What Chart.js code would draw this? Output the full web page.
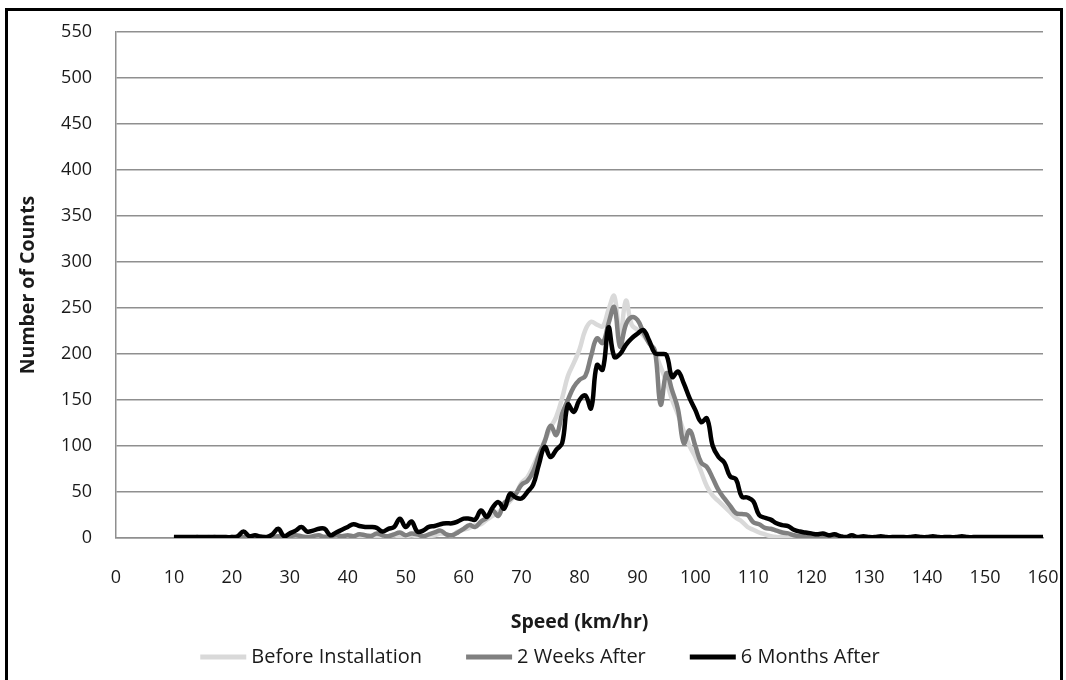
<!DOCTYPE html>
<html>
<head>
<meta charset="utf-8">
<title>Speed distribution</title>
<script src="https://cdn.jsdelivr.net/npm/chart.js@4.4.1/dist/chart.umd.min.js"></script>
<style>
  html, body { margin: 0; padding: 0; background: #fff; }
  #wrap { position: relative; width: 1066px; height: 680px; overflow: hidden; background: #fff; }
  #frame { position: absolute; left: 5px; top: 8px; width: 1058px; height: 720px;
           border: 3px solid #000; box-sizing: border-box; pointer-events: none; }
  #chart { position: absolute; left: 0; top: 0; }
</style>
</head>
<body>
<div id="wrap">
  <canvas id="chart" width="1066" height="680"></canvas>
  <div id="frame"></div>
</div>
<script>
// Speed bins (km/hr)
const speeds = [
  10, 11, 12, 13, 14, 15, 16, 17, 18, 19,
  20, 21, 22, 23, 24, 25, 26, 27, 28, 29,
  30, 31, 32, 33, 34, 35, 36, 37, 38, 39,
  40, 41, 42, 43, 44, 45, 46, 47, 48, 49,
  50, 51, 52, 53, 54, 55, 56, 57, 58, 59,
  60, 61, 62, 63, 64, 65, 66, 67, 68, 69,
  70, 71, 72, 73, 74, 75, 76, 77, 78, 79,
  80, 81, 82, 83, 84, 85, 86, 87, 88, 89,
  90, 91, 92, 93, 94, 95, 96, 97, 98, 99,
  100, 101, 102, 103, 104, 105, 106, 107, 108, 109,
  110, 111, 112, 113, 114, 115, 116, 117, 118, 119,
  120, 121, 122, 123, 124, 125, 126, 127, 128, 129,
  130, 131, 132, 133, 134, 135, 136, 137, 138, 139,
  140, 141, 142, 143, 144, 145, 146, 147, 148, 149,
  150, 151, 152, 153, 154, 155, 156, 157, 158, 159,
  160
];

// Vehicle counts per speed bin
const beforeInstallation = [
  0, 0, 0, 0, 0, 0, 1, 0, 0, 0,
  0, 1, 1, 0, 1, 0, 0, 1, 1, 0,
  1, 2, 1, 1, 0, 1, 2, 1, 1, 2,
  1, 2, 2, 1, 3, 2, 1, 2, 3, 2,
  2, 3, 2, 1, 2, 3, 5, 4, 3, 7,
  9, 11, 14, 15, 20, 24, 28, 34, 40, 48,
  60, 66, 78, 92, 106, 120, 132, 152, 176, 190,
  205, 226, 235, 232, 230, 248, 263, 218, 258, 232,
  226, 220, 212, 202, 186, 170, 150, 134, 116, 100,
  88, 72, 56, 46, 40, 34, 28, 22, 18, 12,
  9, 6, 4, 2, 1, 1, 0, 0, 0, 0,
  0, 0, 0, 0, 0, 0, 0, 0, 0, 0,
  0, 0, 0, 0, 0, 0, 0, 0, 0, 0,
  0, 0, 0, 0, 0, 0, 0, 0, 0, 0,
  0, 0, 0, 0, 0, 0, 0, 0, 0, 0,
  0
];

const twoWeeksAfter = [
  0, 0, 0, 0, 1, 0, 0, 1, 0, 0,
  1, 0, 1, 1, 0, 2, 1, 0, 2, 1,
  2, 3, 2, 1, 2, 3, 1, 2, 3, 2,
  3, 2, 4, 3, 2, 5, 3, 2, 4, 6,
  3, 5, 4, 2, 4, 6, 8, 4, 3, 6,
  10, 14, 12, 18, 22, 30, 24, 38, 42, 48,
  58, 62, 72, 90, 105, 122, 112, 135, 150, 164,
  172, 176, 198, 217, 212, 233, 251, 208, 232, 240,
  237, 224, 212, 204, 145, 179, 160, 140, 103, 117,
  100, 82, 77, 65, 52, 43, 35, 27, 26, 25,
  17, 15, 11, 10, 8, 6, 5, 3, 2, 2,
  1, 1, 1, 1, 0, 1, 0, 0, 0, 0,
  0, 0, 0, 0, 0, 0, 0, 0, 0, 0,
  0, 0, 0, 0, 0, 0, 0, 0, 0, 0,
  0, 0, 0, 0, 0, 0, 0, 0, 0, 0,
  0
];

const sixMonthsAfter = [
  1, 1, 1, 1, 1, 1, 1, 1, 1, 1,
  1, 2, 7, 2, 3, 1, 1, 4, 10, 2,
  5, 8, 12, 7, 8, 10, 10, 3, 6, 9,
  12, 15, 13, 12, 12, 11, 7, 10, 12, 21,
  12, 18, 7, 8, 12, 13, 15, 16, 16, 18,
  21, 21, 20, 30, 23, 33, 39, 32, 48, 44,
  43, 50, 58, 80, 99, 88, 96, 103, 145, 137,
  150, 155, 141, 188, 183, 229, 197, 200, 210, 217,
  222, 226, 215, 201, 200, 199, 175, 181, 168, 152,
  139, 126, 130, 100, 88, 82, 67, 64, 45, 44,
  40, 25, 22, 20, 16, 14, 13, 9, 7, 6,
  5, 4, 5, 3, 4, 2, 1, 3, 1, 2,
  1, 1, 2, 1, 1, 1, 1, 1, 2, 1,
  1, 2, 1, 1, 1, 1, 2, 1, 1, 1,
  1, 1, 1, 1, 1, 1, 1, 1, 1, 1,
  1
];

const seriesLabels = ['Before Installation', '2 Weeks After', '6 Months After'];
const seriesColors = ['#d9d9d9', '#808080', '#000000'];

const FONT = "'Open Sans', 'DejaVu Sans', sans-serif";
const TEXT = '#1a1a1a';
const GRID = '#8f8f8f';
const CLEAR = 'rgba(0,0,0,0)';

const toPoints = values => speeds.map((s, i) => ({ x: s, y: values[i] }));

// Legend drawn as a single centred row of line samples under the axis title
const LEGEND = { cx: 540, y: 657, sample: 46, gap: 5, spacing: 44, thick: 5, size: 20 };
const rowLegend = {
  id: 'rowLegend',
  afterDraw(chart) {
    const ctx = chart.ctx;
    ctx.save();
    ctx.font = LEGEND.size + 'px ' + FONT;
    ctx.textBaseline = 'middle';
    ctx.textAlign = 'left';
    const items = chart.data.datasets.map(ds => ({
      label: ds.label, color: ds.borderColor, w: ctx.measureText(ds.label).width
    }));
    const total = items.reduce((a, it) => a + LEGEND.sample + LEGEND.gap + it.w, 0)
                + LEGEND.spacing * (items.length - 1);
    let x = LEGEND.cx - total / 2;
    items.forEach(it => {
      ctx.fillStyle = it.color;
      ctx.fillRect(x, LEGEND.y - LEGEND.thick / 2, LEGEND.sample, LEGEND.thick);
      x += LEGEND.sample + LEGEND.gap;
      ctx.fillStyle = TEXT;
      ctx.fillText(it.label, x, LEGEND.y);
      x += it.w + LEGEND.spacing;
    });
    ctx.restore();
  }
};

const lineStyle = {
  borderWidth: 4.5,
  pointRadius: 0,
  tension: 0.4,
  fill: false,
  borderJoinStyle: 'round'
};

new Chart(document.getElementById('chart'), {
  type: 'line',
  data: {
    datasets: [
      Object.assign({ label: seriesLabels[0], data: toPoints(beforeInstallation),
        borderColor: seriesColors[0], backgroundColor: seriesColors[0], order: 2 }, lineStyle),
      Object.assign({ label: seriesLabels[1], data: toPoints(twoWeeksAfter),
        borderColor: seriesColors[1], backgroundColor: seriesColors[1], order: 1 }, lineStyle),
      Object.assign({ label: seriesLabels[2], data: toPoints(sixMonthsAfter),
        borderColor: seriesColors[2], backgroundColor: seriesColors[2], order: 0 }, lineStyle)
    ]
  },
  options: {
    responsive: false,
    animation: false,
    layout: { padding: { left: 12, right: 23, top: 32, bottom: 46 } },
    scales: {
      x: {
        type: 'linear',
        min: 0,
        max: 160,
        ticks: { stepSize: 10, padding: 0, color: TEXT, font: { family: FONT, size: 18 }, maxRotation: 0 },
        // invisible tick marks keep the labels clear of the axis line
        grid: { display: true, drawOnChartArea: false, drawTicks: true, tickLength: 29, color: CLEAR },
        border: { display: true, color: GRID, width: 1.5 },
        title: { display: true, text: 'Speed (km/hr)', color: TEXT,
                 font: { family: FONT, size: 19.5, weight: 'bold' }, padding: { top: 0, bottom: 0 } },
        afterFit(scale) { scale.height = 96; }
      },
      y: {
        min: 0,
        max: 550,
        ticks: { stepSize: 50, padding: 0, color: TEXT, font: { family: FONT, size: 18 } },
        grid: {
          color: ctx => ctx.type === 'tick' ? GRID : GRID,
          lineWidth: 1.5,
          drawTicks: true,
          tickLength: 24,
          tickColor: CLEAR
        },
        border: { display: true, color: GRID, width: 1.5 },
        title: { display: true, text: 'Number of Counts', color: TEXT,
                 font: { family: FONT, size: 19.5, weight: 'bold' }, padding: { top: 5, bottom: 0 } },
        afterFit(scale) { scale.width = 104; }
      }
    },
    plugins: {
      legend: { display: false },
      tooltip: { enabled: false }
    }
  },
  plugins: [rowLegend]
});
</script>
</body>
</html>
